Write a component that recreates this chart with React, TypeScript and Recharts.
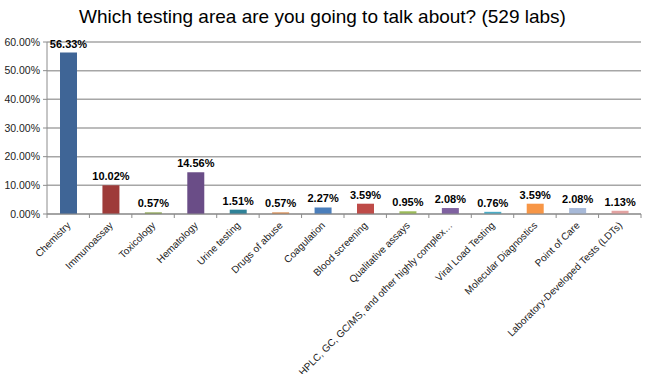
import { BarChart, Bar, XAxis, YAxis, CartesianGrid, Cell, LabelList } from "recharts"

const categories = [
  "Chemistry",
  "Immunoassay",
  "Toxicology",
  "Hematology",
  "Urine testing",
  "Drugs of abuse",
  "Coagulation",
  "Blood screening",
  "Qualitative assays",
  "HPLC, GC, GC/MS, and other highly complex…",
  "Viral Load Testing",
  "Molecular Diagnostics",
  "Point of Care",
  "Laboratory-Developed Tests (LDTs)",
]

const shares = [56.33, 10.02, 0.57, 14.56, 1.51, 0.57, 2.27, 3.59, 0.95, 2.08, 0.76, 3.59, 2.08, 1.13]

const barColors = [
  "#3F6596",
  "#9E3B39",
  "#8AA44F",
  "#6A4D87",
  "#2F8298",
  "#D98A4C",
  "#4A7EBB",
  "#BE4B48",
  "#9BBB59",
  "#7F61A0",
  "#4BACC6",
  "#F79646",
  "#A7B9D8",
  "#E3A3A2",
]

const yTicks = [0, 10, 20, 30, 40, 50, 60]

const data = categories.map((name, i) => ({ name, value: shares[i] }))

const font = "'Liberation Sans', Arial, sans-serif"
const bandHalf = 594 / categories.length / 2

function CategoryTick(props: any) {
  const { x, y, payload, index } = props
  const lx = x + 3
  const ly = y + 4
  return (
    <g>
      <line x1={x - bandHalf} x2={x - bandHalf} y1={y - 8} y2={y - 4} stroke="#8C8C8C" />
      {index === categories.length - 1 && (
        <line x1={x + bandHalf} x2={x + bandHalf} y1={y - 8} y2={y - 4} stroke="#8C8C8C" />
      )}
      <text
        x={lx}
        y={ly}
        transform={`rotate(-45 ${lx} ${ly})`}
        textAnchor="end"
        fontSize={10}
        fontFamily={font}
        fill="#222"
      >
        {payload.value}
      </text>
    </g>
  )
}

export default function App() {
  return (
    <div style={{ position: "absolute", left: 0, top: 0, width: 645, height: 374, background: "#fff" }}>
      <div
        style={{
          position: "absolute",
          top: 6,
          left: 0,
          width: 645,
          textAlign: "center",
          fontFamily: font,
          fontSize: 19,
          color: "#000",
        }}
      >
        Which testing area are you going to talk about? (529 labs)
      </div>
      <BarChart
        width={645}
        height={374}
        data={data}
        margin={{ top: 42, right: 4, left: 0, bottom: 0 }}
      >
        <CartesianGrid vertical={false} stroke="#A6A6A6" strokeWidth={1.5} />
        <XAxis
          dataKey="name"
          interval={0}
          height={160}
          tickLine={false}
          axisLine={{ stroke: "#8C8C8C" }}
          tick={<CategoryTick />}
        />
        <YAxis
          width={47}
          domain={[0, 60]}
          ticks={yTicks}
          tickFormatter={(v: number) => v.toFixed(2) + "%"}
          axisLine={{ stroke: "#8C8C8C" }}
          tickLine={{ stroke: "#8C8C8C" }}
          tickSize={4}
          tickMargin={3}
          tick={{ fontSize: 10.5, fontFamily: font, fill: "#222" }}
        />
        <Bar dataKey="value" barSize={17} isAnimationActive={false}>
          {data.map((d, i) => (
            <Cell key={d.name} fill={barColors[i]} />
          ))}
          <LabelList
            dataKey="value"
            position="top"
            offset={5}
            formatter={(v: any) => Number(v).toFixed(2) + "%"}
            style={{ fontSize: 11, fontWeight: "bold", fontFamily: font, fill: "#000" }}
          />
        </Bar>
      </BarChart>
    </div>
  )
}
